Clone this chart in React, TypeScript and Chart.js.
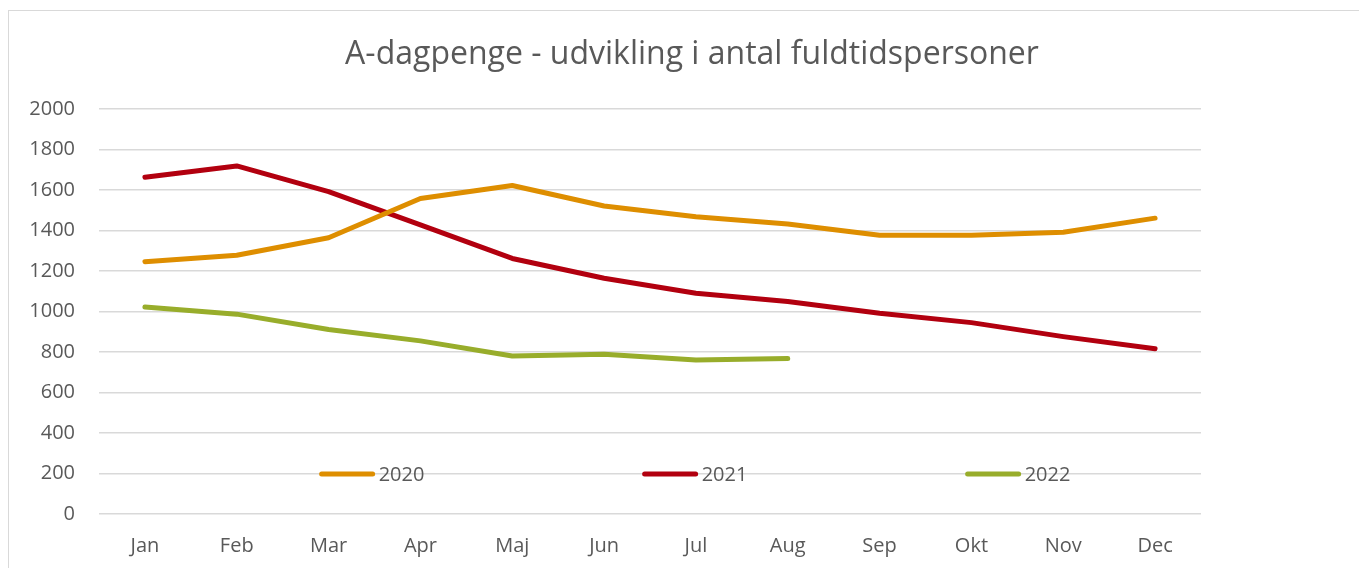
import React, { useEffect, useRef } from "react";
import { Chart, registerables } from "chart.js";

Chart.register(...registerables);

const months = ["Jan", "Feb", "Mar", "Apr", "Maj", "Jun", "Jul", "Aug", "Sep", "Okt", "Nov", "Dec"];
const series2020 = [1246, 1278, 1364, 1558, 1622, 1521, 1468, 1432, 1377, 1377, 1391, 1461];
const series2021 = [1663, 1719, 1592, 1428, 1262, 1164, 1090, 1049, 991, 945, 876, 816];
const series2022 = [1022, 987, 911, 855, 780, 789, 760, 768];
const yTicks = [0, 200, 400, 600, 800, 1000, 1200, 1400, 1600, 1800, 2000];
const titleText = "A-dagpenge - udvikling i antal fuldtidspersoner";

const FONT = "'Open Sans', 'Noto Sans', sans-serif";
const TEXT_COLOR = "#595959";

const titlePlugin = {
  id: "customTitle",
  afterDraw(chart: any) {
    const ctx = chart.ctx;
    ctx.save();
    ctx.font = `32px ${FONT}`;
    ctx.fillStyle = TEXT_COLOR;
    ctx.textAlign = "center";
    ctx.textBaseline = "middle";
    ctx.fillText(titleText, chart.width / 2 + 4, 44);
    ctx.restore();
  },
};

const legendPlugin = {
  id: "customLegend",
  afterDraw(chart: any) {
    const ctx = chart.ctx;
    const area = chart.chartArea;
    const y = area.bottom - 40;
    const lineLen = 55;
    const gap = 4;
    const spacing = 323;
    const items = chart.data.datasets.map((d: any) => ({ label: d.label, color: d.borderColor }));
    ctx.save();
    ctx.font = `20px ${FONT}`;
    const lastW = ctx.measureText(items[items.length - 1].label).width;
    const total = spacing * (items.length - 1) + lineLen + gap + lastW;
    let x = chart.width / 2 + 7 - total / 2;
    items.forEach((it: any) => {
      ctx.beginPath();
      ctx.strokeStyle = it.color;
      ctx.lineWidth = 5;
      ctx.lineCap = "round";
      ctx.moveTo(x + 2, y);
      ctx.lineTo(x + lineLen - 2, y);
      ctx.stroke();
      ctx.fillStyle = TEXT_COLOR;
      ctx.textBaseline = "middle";
      ctx.textAlign = "left";
      ctx.fillText(it.label, x + lineLen + gap, y + 1);
      x += spacing;
    });
    ctx.restore();
  },
};

export default function App() {
  const canvasRef = useRef<HTMLCanvasElement | null>(null);

  useEffect(() => {
    document.documentElement.style.overflow = "hidden";
    document.body.style.overflow = "hidden";
    const canvas = canvasRef.current;
    if (!canvas) return;
    const lineStyle = {
      borderWidth: 5,
      pointRadius: 0,
      pointHoverRadius: 0,
      tension: 0,
      borderCapStyle: "round" as const,
      borderJoinStyle: "round" as const,
      fill: false,
    };
    const chart = new Chart(canvas, {
      type: "line",
      data: {
        labels: months,
        datasets: [
          { label: "2020", data: series2020, borderColor: "#DE8E00", backgroundColor: "#DE8E00", ...lineStyle },
          { label: "2021", data: series2021, borderColor: "#B2000F", backgroundColor: "#B2000F", ...lineStyle },
          { label: "2022", data: series2022, borderColor: "#98AD2B", backgroundColor: "#98AD2B", ...lineStyle },
        ],
      },
      options: {
        animation: false,
        responsive: false,
        maintainAspectRatio: false,
        layout: { padding: { left: 0, right: 166, top: 98, bottom: 0 } },
        plugins: {
          legend: { display: false },
          tooltip: { enabled: false },
          title: { display: false },
        },
        scales: {
          x: {
            offset: true,
            grid: { display: false, drawTicks: false },
            border: { display: false },
            ticks: { color: TEXT_COLOR, font: { family: FONT, size: 20 }, padding: 20, maxRotation: 0 },
            afterFit(scale: any) {
              scale.height = 56;
            },
          },
          y: {
            min: 0,
            max: 2000,
            afterBuildTicks(scale: any) {
              scale.ticks = yTicks.map((v) => ({ value: v }));
            },
            grid: { color: "#D9D9D9", lineWidth: 1.5, drawTicks: false },
            border: { display: false },
            ticks: {
              color: TEXT_COLOR,
              font: { family: FONT, size: 20 },
              padding: 24,
              callback: (v: any) => String(v),
            },
            afterFit(scale: any) {
              scale.width = 90;
            },
          },
        },
      },
      plugins: [legendPlugin, titlePlugin],
    });
    return () => chart.destroy();
  }, []);

  return (
    <div
      style={{
        position: "relative",
        top: 2,
        width: 1358,
        height: 559,
        borderLeft: "1px solid #D9D9D9",
        borderTop: "1px solid #D9D9D9",
        overflow: "hidden",
      }}
    >
      <canvas ref={canvasRef} width={1358} height={559} style={{ display: "block" }} />
    </div>
  );
}
